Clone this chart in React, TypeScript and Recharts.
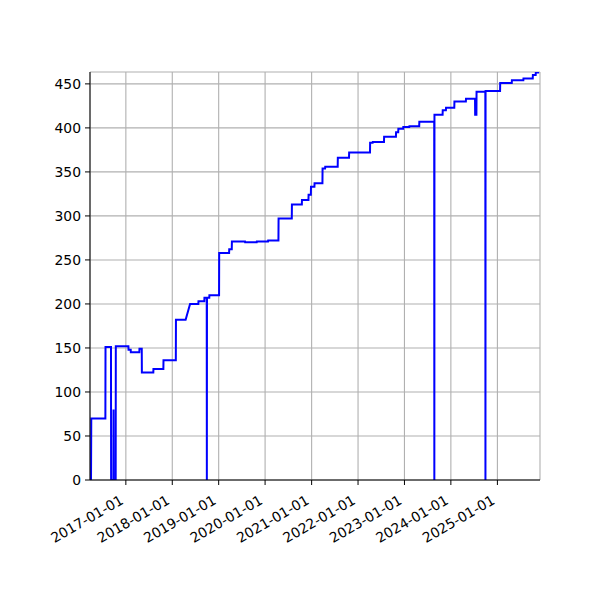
import { LineChart, Line, XAxis, YAxis, CartesianGrid } from "recharts";

// vertices of the step line
const dates = [
  "2016-04-02", "2016-04-04", "2016-07-24", "2016-07-25", "2016-09-06", "2016-09-07",
  "2016-09-25", "2016-09-26", "2016-09-27", "2016-10-13", "2016-10-14", "2017-01-21",
  "2017-01-22", "2017-02-08", "2017-02-09", "2017-04-17", "2017-04-18", "2017-05-06",
  "2017-05-07", "2017-08-05", "2017-08-06", "2017-10-23", "2017-10-24", "2018-01-29",
  "2018-01-30", "2018-04-16", "2018-05-21", "2018-07-25", "2018-07-26", "2018-09-10",
  "2018-09-11", "2018-09-29", "2018-09-30", "2018-10-01", "2018-10-19", "2018-10-20",
  "2019-01-04", "2019-01-05", "2019-03-24", "2019-03-25", "2019-04-14", "2019-04-15",
  "2019-07-27", "2019-07-28", "2019-10-27", "2019-10-28", "2020-01-24", "2020-01-25",
  "2020-04-15", "2020-04-16", "2020-07-29", "2020-07-30", "2020-10-16", "2020-10-17",
  "2020-12-07", "2020-12-08", "2020-12-26", "2020-12-27", "2021-01-23", "2021-01-24",
  "2021-03-27", "2021-03-28", "2021-04-17", "2021-04-18", "2021-07-25", "2021-07-26",
  "2021-10-22", "2021-10-23", "2022-04-05", "2022-04-06", "2022-04-26", "2022-04-27",
  "2022-07-24", "2022-07-25", "2022-10-26", "2022-10-27", "2022-11-13", "2022-11-14",
  "2022-12-22", "2022-12-23", "2023-02-08", "2023-02-09", "2023-04-27", "2023-04-28",
  "2023-08-23", "2023-08-24", "2023-08-25", "2023-10-28", "2023-10-29", "2023-11-23",
  "2023-11-24", "2024-01-28", "2024-01-29", "2024-04-28", "2024-04-29", "2024-07-09",
  "2024-07-10", "2024-07-20", "2024-07-21", "2024-09-28", "2024-09-29", "2024-09-30",
  "2025-01-22", "2025-01-23", "2025-04-24", "2025-04-25", "2025-07-24", "2025-07-25",
  "2025-10-06", "2025-10-07", "2025-10-29", "2025-10-30", "2025-11-25",
];

const counts = [
  0, 70, 70, 151, 151, 0,
  0, 80, 0, 0, 152, 152,
  148, 148, 145, 145, 149, 149,
  122, 122, 126, 126, 136, 136,
  182, 182, 200, 200, 203, 203,
  207, 207, 0, 207, 207, 210,
  210, 258, 258, 262, 262, 271,
  271, 270, 270, 271, 271, 272,
  272, 297, 297, 313, 313, 318,
  318, 324, 324, 333, 333, 337,
  337, 354, 354, 356, 356, 366,
  366, 372, 372, 383, 383, 384,
  384, 390, 390, 395, 395, 399,
  399, 401, 401, 402, 402, 407,
  407, 0, 415, 415, 420, 420,
  423, 423, 430, 430, 433, 433,
  415, 415, 441, 441, 0, 442,
  442, 451, 451, 454, 454, 456,
  456, 460, 460, 463, 463,
];

const yearTicks = [
  "2017-01-01", "2018-01-01", "2019-01-01", "2020-01-01", "2021-01-01",
  "2022-01-01", "2023-01-01", "2024-01-01", "2025-01-01",
];
const yTicks = [0, 50, 100, 150, 200, 250, 300, 350, 400, 450];

const data = dates.map((d, i) => ({ t: Date.parse(d), v: counts[i] }));
const xTicks = yearTicks.map((d) => Date.parse(d));
const xDomain = [Date.parse("2016-03-25"), Date.parse("2025-12-02")];

const FONT = "DejaVu Sans";

function DateTick(props: any) {
  const { x, y, payload } = props;
  const label = new Date(payload.value).toISOString().slice(0, 10);
  const px = x - 1.5;
  const py = y + 13;
  return (
    <text
      x={px}
      y={py}
      textAnchor="end"
      fontSize={13.9}
      fontFamily={FONT}
      fill="#000"
      transform={`rotate(-30 ${px} ${py})`}
    >
      {label}
    </text>
  );
}

export default function App() {
  return (
    <div
      style={{
        position: "absolute",
        left: 0,
        top: 0,
        width: 600,
        height: 600,
        background: "#fff",
      }}
    >
      <LineChart
        width={600}
        height={600}
        data={data}
        margin={{ top: 72, right: 60, bottom: 0, left: 30 }}
      >
        <CartesianGrid stroke="#b0b0b0" strokeWidth={1.1} />
        <XAxis
          dataKey="t"
          type="number"
          domain={xDomain}
          ticks={xTicks}
          allowDataOverflow
          height={120}
          tickSize={5}
          tickMargin={5}
          stroke="#000"
          tick={<DateTick />}
          interval={0}
        />
        <XAxis
          xAxisId="top"
          orientation="top"
          dataKey="t"
          type="number"
          domain={xDomain}
          height={0}
          tick={false}
          tickLine={false}
          stroke="#000"
        />
        <YAxis
          type="number"
          domain={[0, 463.5]}
          ticks={yTicks}
          allowDataOverflow
          width={60}
          tickSize={5}
          tickMargin={4}
          stroke="#000"
          interval={0}
          tick={{ fontSize: 13.9, fontFamily: FONT, fill: "#000" }}
        />
        <YAxis
          yAxisId="right"
          orientation="right"
          domain={[0, 463.5]}
          width={0}
          tick={false}
          tickLine={false}
          stroke="#000"
        />
        <Line
          dataKey="v"
          type="linear"
          stroke="#0000ff"
          strokeWidth={2}
          dot={false}
          activeDot={false}
          isAnimationActive={false}
        />
      </LineChart>
    </div>
  );
}
